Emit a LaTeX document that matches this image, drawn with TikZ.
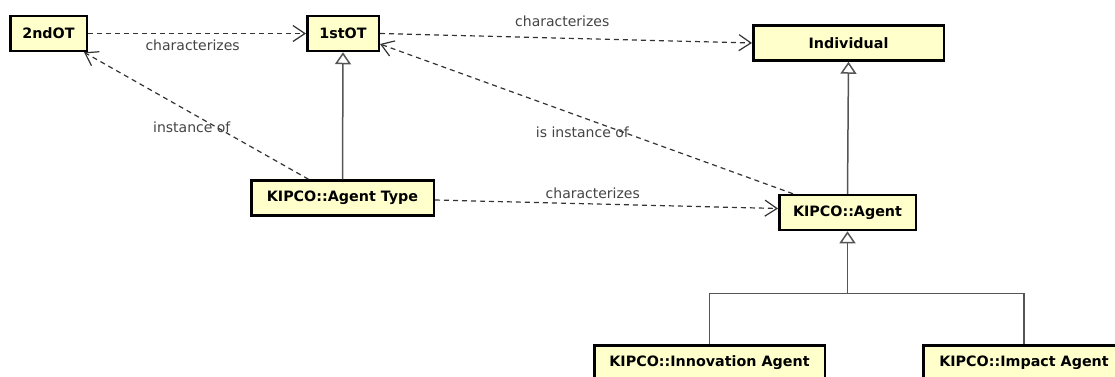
\documentclass[tikz,border=0pt]{standalone}
\usepackage{fontspec}
\setmainfont{DejaVu Sans}
\usetikzlibrary{arrows.meta,calc}
\definecolor{classfill}{HTML}{FFFFCC}
\definecolor{deplinecol}{HTML}{333333}
\definecolor{genlinecol}{HTML}{555555}
\definecolor{labelcol}{HTML}{444444}
\begin{document}
\begin{tikzpicture}[x=1pt,y=-1pt,
        umlclass/.style={draw=black,line width=2.5pt,fill=classfill,inner sep=0pt,
            minimum height=35pt,font=\fontsize{14.3}{16}\selectfont\bfseries},
        dep/.style={draw=deplinecol,line width=1.2pt,dash pattern=on 5pt off 4pt,
            -{Straight Barb[length=12pt,width=16pt]}},
        gen/.style={draw=genlinecol,line width=1.5pt,
            -{Triangle[open,length=12pt,width=16pt,fill=white]}},
        lbl/.style={text=labelcol,inner sep=0pt,font=\fontsize{14}{16}\selectfont}]
    \useasboundingbox (0,0) rectangle (1115,376);

    % classes
    \node[umlclass,minimum width=76.5pt] (second) at (48.5,33.5) {2ndOT};
    \node[umlclass,minimum width=71.5pt] (first) at (343,33.5) {1stOT};
    \node[umlclass,minimum width=190.5pt] (individual) at (848.5,43) {Individual};
    \node[umlclass,minimum width=182.5pt] (agenttype) at (342.5,198) {KIPCO::Agent Type};
    \node[umlclass,minimum width=136.5pt] (agent) at (847.5,212.5) {KIPCO::Agent};
    \node[umlclass,minimum width=230.5pt] (innovation) at (709.5,363) {KIPCO::Innovation Agent};
    \node[umlclass,minimum width=201.5pt] (impact) at (1024,363) {KIPCO::Impact Agent};

    % dependencies
    \draw[dep] (second.east) -- (first.west)
        node[lbl,pos=.48,yshift=-12pt] {characterizes};
    \draw[dep] (first.east) -- (individual.west)
        node[lbl,pos=.49,yshift=17pt] {characterizes};
    \draw[dep] ($(agenttype.north)+(-34,0)$) -- ($(second.south east)+(-4,0)$)
        node[lbl,pos=.52,yshift=-14pt] {instance of};
    \draw[dep] ($(agent.north west)+(15,0)$) -- ($(first.east)+(0,10.5)$)
        node[lbl,pos=.51,yshift=-15pt] {is instance of};
    \draw[dep] ($(agenttype.east)+(0,2)$) -- ($(agent.west)+(0,-4)$)
        node[lbl,pos=.46,yshift=11pt] {characterizes};

    % generalizations
    \draw[gen] (agenttype.north) -- (first.south);
    \draw[gen] (agent.north) -- (individual.south);
    \coordinate (fork) at ($(agent.south)+(0,62)$);
    \draw[gen] (innovation.north) |- (fork) -- (agent.south);
    \draw[gen,-] (impact.north) |- (fork);
\end{tikzpicture}
\end{document}
